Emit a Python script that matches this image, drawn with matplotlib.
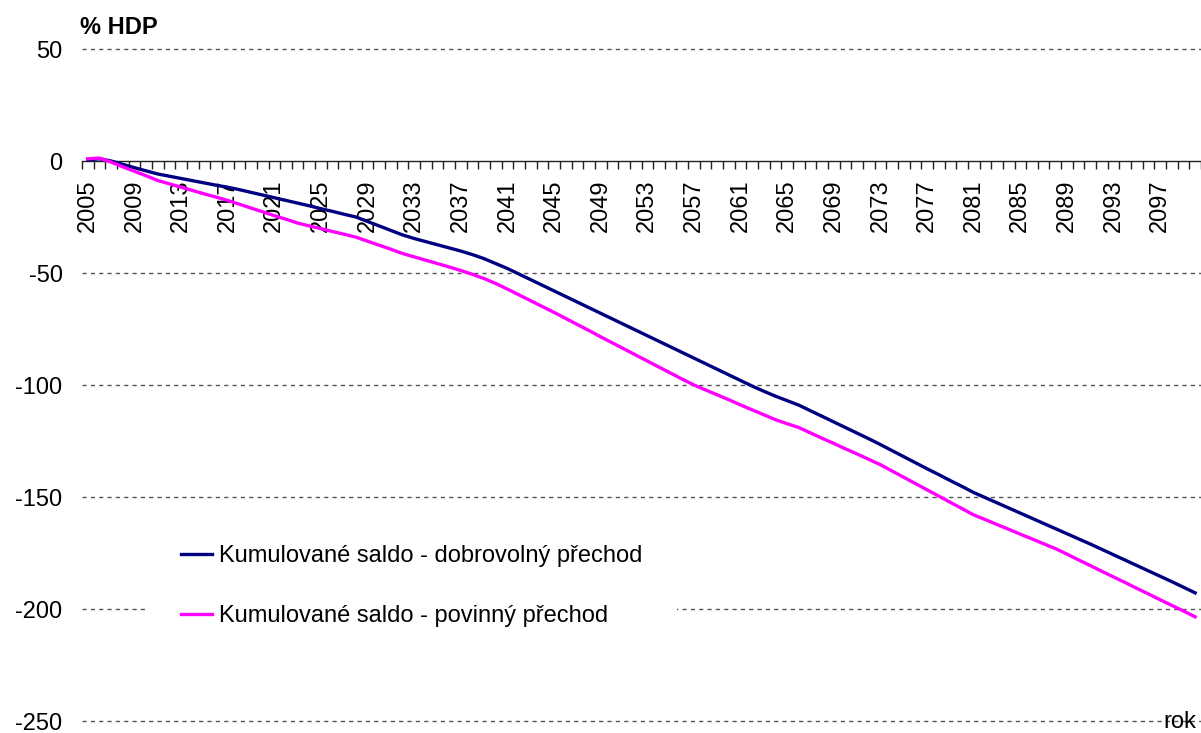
import matplotlib
matplotlib.use("Agg")
import matplotlib.pyplot as plt
from matplotlib.ticker import FixedLocator, NullFormatter

plt.rcParams['font.family'] = ['Liberation Sans', 'DejaVu Sans']

# Roky 2005-2100 (kategorie osy x)
roky = list(range(2005, 2101))

# Kumulované saldo - dobrovolný přechod (% HDP)
saldo_dobrovolny = [
    0.5, 1.0, 0.0, -1.5, -3.0, -4.4, -5.8, -6.8, -7.8, -8.8,
    -9.8, -10.8, -11.7, -12.8, -14.0, -15.2, -16.4, -17.6, -18.8, -20.0,
    -21.3, -22.5, -23.8, -25.0, -27.0, -29.0, -31.0, -33.0, -34.6, -36.0,
    -37.4, -38.8, -40.2, -41.8, -43.6, -45.8, -48.0, -50.5, -53.0, -55.5,
    -58.0, -60.5, -63.0, -65.5, -68.0, -70.5, -73.0, -75.5, -78.0, -80.5,
    -83.0, -85.5, -88.0, -90.5, -93.0, -95.5, -98.0, -100.5, -102.8, -105.0,
    -107.0, -109.0, -111.5, -114.0, -116.5, -119.0, -121.5, -124.0, -126.6, -129.3,
    -132.0, -134.7, -137.4, -140.0, -142.7, -145.3, -148.0, -150.3, -152.6, -154.9,
    -157.2, -159.5, -161.8, -164.1, -166.4, -168.7, -171.0, -173.4, -175.8, -178.2,
    -180.6, -183.0, -185.4, -187.8, -190.3, -192.8,
]

# Kumulované saldo - povinný přechod (% HDP)
saldo_povinny = [
    1.0, 1.3, -0.5, -2.6, -4.6, -6.6, -8.7, -10.2, -11.7, -13.2,
    -14.7, -16.1, -17.6, -19.3, -21.0, -22.7, -24.4, -26.0, -27.7, -29.0,
    -30.2, -31.5, -32.7, -34.0, -35.8, -37.6, -39.4, -41.3, -42.8, -44.3,
    -45.8, -47.3, -48.9, -50.6, -52.5, -54.7, -57.2, -59.8, -62.4, -65.0,
    -67.6, -70.3, -73.0, -75.7, -78.5, -81.2, -83.9, -86.6, -89.3, -92.0,
    -94.7, -97.4, -100.0, -102.2, -104.4, -106.6, -108.9, -111.1, -113.3, -115.5,
    -117.3, -119.0, -121.4, -123.8, -126.1, -128.5, -130.8, -133.2, -135.6, -138.4,
    -141.2, -144.0, -146.8, -149.6, -152.4, -155.2, -158.0, -160.1, -162.3, -164.4,
    -166.6, -168.7, -170.9, -173.0, -175.5, -178.1, -180.6, -183.2, -185.7, -188.2,
    -190.8, -193.3, -195.9, -198.4, -200.9, -203.5,
]

y_ticks = [50, 0, -50, -100, -150, -200, -250]

fs = 17  # velikost písma (obrázek je zvětšený)

fig = plt.figure(figsize=(12.01, 7.33), dpi=100)
ax = fig.add_axes([82 / 1201, 1 - 721 / 733, 1 - 82 / 1201, (721 - 49) / 733])

x = list(range(len(roky)))
ax.plot(x, saldo_dobrovolny, color='#000080', lw=2.4, label='Kumulované saldo - dobrovolný přechod', zorder=3)
ax.plot(x, saldo_povinny, color='#FF00FF', lw=2.4, label='Kumulované saldo - povinný přechod', zorder=3)

ax.set_xlim(-0.5, len(roky) - 0.5)
ax.set_ylim(-250, 50)

# mřížka (přerušované čáry) kromě nuly
for yv in y_ticks:
    if yv != 0:
        ax.axhline(yv, color='#555555', lw=1.0, ls=(0, (3, 3)), zorder=1, clip_on=False)

for s in ['top', 'right', 'left']:
    ax.spines[s].set_visible(False)
ax.spines['bottom'].set_position(('data', 0))
ax.spines['bottom'].set_color('#222222')
ax.spines['bottom'].set_linewidth(1.0)

# osa x: popisky každé 4 roky, značky mezi kategoriemi
major = [i for i, r in enumerate(roky) if (r - 2005) % 4 == 0]
ax.xaxis.set_major_locator(FixedLocator(major))
ax.set_xticklabels([str(roky[i]) for i in major], rotation=90, fontsize=fs)
ax.xaxis.set_minor_locator(FixedLocator([i - 0.5 for i in range(len(roky) + 1)]))
ax.xaxis.set_minor_formatter(NullFormatter())
ax.tick_params(axis='x', which='major', length=0, pad=13)
ax.tick_params(axis='x', which='minor', length=6, width=1.0, color='#222222', direction='out')

ax.set_yticks(y_ticks)
ax.set_yticklabels([str(v) for v in y_ticks], fontsize=fs)
ax.tick_params(axis='y', length=0, pad=14)

fig.text(80 / 1201, 1 - 27 / 733, '% HDP', fontsize=fs, fontweight='bold', va='center', ha='left')
fig.text(1163 / 1201, 0, 'rok', fontsize=fs, va='bottom', ha='left')

leg = ax.legend(loc='upper left', bbox_to_anchor=(147 / 1201, 1 - 511 / 733),
                bbox_transform=fig.transFigure, fontsize=fs, frameon=True,
                fancybox=False, handlelength=1.3, handletextpad=0.3,
                labelspacing=1.6, borderpad=1.45, borderaxespad=0)
leg.get_frame().set_facecolor('white')
leg.get_frame().set_edgecolor('none')
leg.get_frame().set_alpha(1)
leg.set_zorder(2)
for h in leg.get_lines():
    h.set_linewidth(2.4)

fig.savefig('out.png', dpi=100)
